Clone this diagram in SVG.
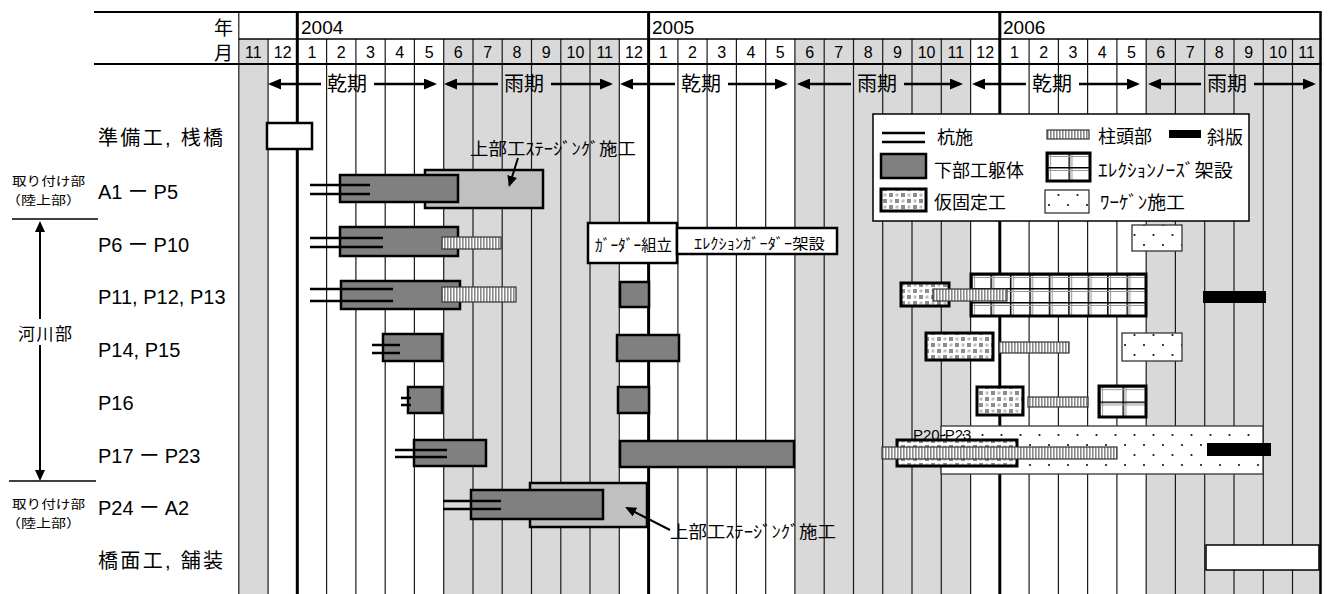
<svg xmlns="http://www.w3.org/2000/svg" width="1329" height="594" viewBox="0 0 1329 594">
<defs>
<style>
.jp{font-family:"Noto Sans CJK JP",sans-serif;fill:#000}
.lat{font-family:"Liberation Sans","Noto Sans CJK JP",sans-serif;fill:#000}
.mon{font-family:"Liberation Sans",sans-serif;font-size:16px;text-anchor:middle;fill:#000}
.sec{font-family:"Noto Sans CJK JP",sans-serif;font-size:12.4px;fill:#000}
.gcol{fill:#d9d9d9}
.vl{stroke:#1a1a1a;stroke-width:1.2}
.yl{stroke:#000;stroke-width:3}
.hl{stroke:#000;stroke-width:2}
.body{fill:#808080;stroke:#000;stroke-width:2.5}
.stage{fill:#c0c0c0;stroke:#000;stroke-width:2.5}
.pile{stroke:#000;stroke-width:2.5}
.stripe{fill:url(#pStripe);stroke:#333;stroke-width:1.2}
.kari{fill:url(#pKari);stroke:#000;stroke-width:3}
.wagen{fill:url(#pWagen);stroke:#333;stroke-width:1.3}
.slab{fill:#000}
.box{fill:#fff;stroke:#000;stroke-width:2.5}
.season{stroke:#000;stroke-width:2.5;fill:none;marker-end:url(#ah)}
.conn{stroke:#000;stroke-width:2;fill:none;marker-end:url(#ah2)}
</style>
<marker id="ah" markerUnits="userSpaceOnUse" markerWidth="13" markerHeight="11" viewBox="0 0 13 11" refX="10" refY="5.5" orient="auto"><path d="M0,0 L13,5.5 L0,11 z" fill="#000"/></marker>
<marker id="ah2" markerUnits="userSpaceOnUse" markerWidth="11" markerHeight="10" viewBox="0 0 11 10" refX="9" refY="5" orient="auto"><path d="M0,0 L11,5 L0,10 z" fill="#000"/></marker>
<pattern id="pStripe" patternUnits="userSpaceOnUse" width="3" height="10"><rect width="3" height="10" fill="#fff"/><rect width="1.6" height="10" fill="#8a8a8a"/></pattern>
<pattern id="pKari" patternUnits="userSpaceOnUse" width="12" height="12"><rect width="12" height="12" fill="#fff"/><rect x="1" y="1" width="4" height="4" fill="#8c8c8c"/><rect x="7" y="7" width="4" height="4" fill="#8c8c8c"/><rect x="7.5" y="1.5" width="3" height="3" fill="#bdbdbd"/><rect x="1.5" y="7.5" width="3" height="3" fill="#bdbdbd"/></pattern>
<pattern id="pWagen" patternUnits="userSpaceOnUse" width="19" height="20"><rect width="19" height="20" fill="#fff"/><circle cx="4" cy="5" r="1.1" fill="#111"/><circle cx="13.5" cy="15" r="1.1" fill="#111"/></pattern>
<pattern id="pNose" patternUnits="userSpaceOnUse" x="971" y="274" width="19.44" height="14"><rect width="19.44" height="14" fill="#fff"/><rect width="1.5" height="14" fill="#000"/><rect x="3" width="1" height="14" fill="#999"/><rect width="19.44" height="1.5" fill="#000"/><rect y="3" width="19.44" height="1" fill="#999"/></pattern>
<pattern id="pNose2" patternUnits="userSpaceOnUse" x="1099" y="386" width="23.5" height="15.5"><rect width="23.5" height="15.5" fill="#fff"/><rect width="1.5" height="15.5" fill="#000"/><rect x="3" width="1" height="15.5" fill="#999"/><rect width="23.5" height="1.5" fill="#000"/><rect y="3" width="23.5" height="1" fill="#999"/></pattern>
<pattern id="pNose3" patternUnits="userSpaceOnUse" x="1047" y="153" width="21.5" height="14"><rect width="21.5" height="14" fill="#fff"/><rect width="1.5" height="14" fill="#000"/><rect x="3" width="1" height="14" fill="#999"/><rect width="21.5" height="1.5" fill="#000"/><rect y="3" width="21.5" height="1" fill="#999"/></pattern>
</defs>
<rect width="1329" height="594" fill="#fff"/>

<g id="grid">
<rect class="gcol" x="238.8" y="39" width="29.3" height="555"/>
<rect class="gcol" x="443.7" y="39" width="175.6" height="555"/>
<rect class="gcol" x="794.9" y="39" width="175.7" height="555"/>
<rect class="gcol" x="1146.2" y="39" width="174.3" height="555"/>
<g class="vl">
<line x1="268.1" y1="39" x2="268.1" y2="594"/>
<line x1="326.6" y1="39" x2="326.6" y2="594"/>
<line x1="355.9" y1="39" x2="355.9" y2="594"/>
<line x1="385.2" y1="39" x2="385.2" y2="594"/>
<line x1="414.4" y1="39" x2="414.4" y2="594"/>
<line x1="443.7" y1="39" x2="443.7" y2="594"/>
<line x1="473" y1="39" x2="473" y2="594"/>
<line x1="502.2" y1="39" x2="502.2" y2="594"/>
<line x1="531.5" y1="39" x2="531.5" y2="594"/>
<line x1="560.8" y1="39" x2="560.8" y2="594"/>
<line x1="590" y1="39" x2="590" y2="594"/>
<line x1="619.3" y1="39" x2="619.3" y2="594"/>
<line x1="677.9" y1="39" x2="677.9" y2="594"/>
<line x1="707.1" y1="39" x2="707.1" y2="594"/>
<line x1="736.4" y1="39" x2="736.4" y2="594"/>
<line x1="765.7" y1="39" x2="765.7" y2="594"/>
<line x1="794.9" y1="39" x2="794.9" y2="594"/>
<line x1="824.2" y1="39" x2="824.2" y2="594"/>
<line x1="853.5" y1="39" x2="853.5" y2="594"/>
<line x1="882.7" y1="39" x2="882.7" y2="594"/>
<line x1="912" y1="39" x2="912" y2="594"/>
<line x1="941.3" y1="39" x2="941.3" y2="594"/>
<line x1="970.6" y1="39" x2="970.6" y2="594"/>
<line x1="1029.1" y1="39" x2="1029.1" y2="594"/>
<line x1="1058.4" y1="39" x2="1058.4" y2="594"/>
<line x1="1087.6" y1="39" x2="1087.6" y2="594"/>
<line x1="1116.9" y1="39" x2="1116.9" y2="594"/>
<line x1="1146.2" y1="39" x2="1146.2" y2="594"/>
<line x1="1175.4" y1="39" x2="1175.4" y2="594"/>
<line x1="1204.7" y1="39" x2="1204.7" y2="594"/>
<line x1="1234" y1="39" x2="1234" y2="594"/>
<line x1="1263.3" y1="39" x2="1263.3" y2="594"/>
<line x1="1292.5" y1="39" x2="1292.5" y2="594"/>
<line x1="238.8" y1="12" x2="238.8" y2="594"/>
</g>
<line x1="1320.5" y1="12" x2="1320.5" y2="594" stroke="#000" stroke-width="2.5"/>
<line class="yl" x1="297.3" y1="12" x2="297.3" y2="594"/>
<line class="yl" x1="648.6" y1="12" x2="648.6" y2="594"/>
<line class="yl" x1="999.8" y1="12" x2="999.8" y2="594"/>
<line class="hl" x1="94" y1="12" x2="1321.7" y2="12"/>
<line x1="238.8" y1="39" x2="1321.7" y2="39" stroke="#000" stroke-width="1.5"/>
<line class="hl" x1="94" y1="64" x2="1321.7" y2="64"/>
</g>

<g id="header">
<text class="jp" x="233" y="35" font-size="19" text-anchor="end">年</text>
<text class="jp" x="233" y="60" font-size="19" text-anchor="end">月</text>
<text class="lat" x="301" y="34" font-size="19">2004</text>
<text class="lat" x="652" y="34" font-size="19">2005</text>
<text class="lat" x="1003" y="34" font-size="19">2006</text>
<text class="mon" x="253.4" y="58">11</text>
<text class="mon" x="282.7" y="58">12</text>
<text class="mon" x="312" y="58">1</text>
<text class="mon" x="341.2" y="58">2</text>
<text class="mon" x="370.5" y="58">3</text>
<text class="mon" x="399.8" y="58">4</text>
<text class="mon" x="429.1" y="58">5</text>
<text class="mon" x="458.3" y="58">6</text>
<text class="mon" x="487.6" y="58">7</text>
<text class="mon" x="516.9" y="58">8</text>
<text class="mon" x="546.1" y="58">9</text>
<text class="mon" x="575.4" y="58">10</text>
<text class="mon" x="604.7" y="58">11</text>
<text class="mon" x="634" y="58">12</text>
<text class="mon" x="663.2" y="58">1</text>
<text class="mon" x="692.5" y="58">2</text>
<text class="mon" x="721.8" y="58">3</text>
<text class="mon" x="751" y="58">4</text>
<text class="mon" x="780.3" y="58">5</text>
<text class="mon" x="809.6" y="58">6</text>
<text class="mon" x="838.8" y="58">7</text>
<text class="mon" x="868.1" y="58">8</text>
<text class="mon" x="897.4" y="58">9</text>
<text class="mon" x="926.6" y="58">10</text>
<text class="mon" x="955.9" y="58">11</text>
<text class="mon" x="985.2" y="58">12</text>
<text class="mon" x="1014.5" y="58">1</text>
<text class="mon" x="1043.7" y="58">2</text>
<text class="mon" x="1073" y="58">3</text>
<text class="mon" x="1102.3" y="58">4</text>
<text class="mon" x="1131.5" y="58">5</text>
<text class="mon" x="1160.8" y="58">6</text>
<text class="mon" x="1190.1" y="58">7</text>
<text class="mon" x="1219.3" y="58">8</text>
<text class="mon" x="1248.6" y="58">9</text>
<text class="mon" x="1277.9" y="58">10</text>
<text class="mon" x="1306.5" y="58">11</text>
<g class="jp" font-size="20" text-anchor="middle">
<text x="347" y="91">乾期</text>
<text x="524" y="91">雨期</text>
<text x="701" y="91">乾期</text>
<text x="877" y="91">雨期</text>
<text x="1052" y="91">乾期</text>
<text x="1227" y="91">雨期</text>
</g>
</g>

<g id="row-labels">
<text class="lat" x="98" y="145" font-size="20" textLength="125">準備工, 桟橋</text>
<text class="lat" x="98" y="199" font-size="20">A1 ー P5</text>
<text class="lat" x="98" y="252" font-size="20">P6 ー P10</text>
<text class="lat" x="98" y="304" font-size="20">P11, P12, P13</text>
<text class="lat" x="98" y="357" font-size="20">P14, P15</text>
<text class="lat" x="98" y="410" font-size="20">P16</text>
<text class="lat" x="98" y="463" font-size="20">P17 ー P23</text>
<text class="lat" x="98" y="515" font-size="20">P24 ー A2</text>
<text class="lat" x="98" y="568" font-size="20" textLength="125">橋面工, 舗装</text>
</g>

<g id="section-labels">
<text class="sec" x="12" y="186" textLength="73" lengthAdjust="spacingAndGlyphs">取り付け部</text>
<text class="sec" x="6" y="205" textLength="75" lengthAdjust="spacingAndGlyphs">（陸上部）</text>
<line x1="12" y1="219" x2="98" y2="219" stroke="#000" stroke-width="1.5"/>
<text class="jp" x="18" y="340" font-size="17" letter-spacing="1.5">河川部</text>
<line x1="9" y1="481" x2="96" y2="481" stroke="#000" stroke-width="1.5"/>
<text class="sec" x="12" y="509" textLength="73" lengthAdjust="spacingAndGlyphs">取り付け部</text>
<text class="sec" x="6" y="528" textLength="75" lengthAdjust="spacingAndGlyphs">（陸上部）</text>
</g>

<g id="task-prep"><rect class="box" x="267" y="123" width="45" height="26"/></g>

<g id="task-A1-P5">
<rect class="stage" x="425" y="170" width="118" height="38"/>
<rect class="body" x="340" y="175" width="118" height="27"/>
<line class="pile" x1="310" y1="185" x2="370" y2="185"/>
<line class="pile" x1="310" y1="194" x2="370" y2="194"/>
<text class="jp" x="470" y="155" font-size="17" textLength="166" lengthAdjust="spacingAndGlyphs">上部工ｽﾃｰｼﾞﾝｸﾞ施工</text>
</g>

<g id="task-P6-P10">
<rect class="body" x="340" y="227" width="118" height="29"/>
<line class="pile" x1="310" y1="238" x2="383" y2="238"/>
<line class="pile" x1="310" y1="247" x2="383" y2="247"/>
<rect class="stripe" x="442" y="237" width="59" height="12"/>
<rect class="box" x="588" y="223" width="89" height="40"/>
<text class="jp" x="595" y="251" font-size="16" textLength="77" lengthAdjust="spacingAndGlyphs">ｶﾞｰﾀﾞｰ組立</text>
<rect class="box" x="677" y="228" width="160" height="26"/>
<text class="jp" x="694" y="249" font-size="15" textLength="131" lengthAdjust="spacingAndGlyphs">ｴﾚｸｼｮﾝｶﾞｰﾀﾞｰ架設</text>
<rect class="wagen" x="1132" y="225" width="50" height="26"/>
</g>

<g id="task-P11-P13">
<rect class="body" x="341" y="281" width="119" height="28"/>
<line class="pile" x1="310" y1="289" x2="393" y2="289"/>
<line class="pile" x1="310" y1="301" x2="393" y2="301"/>
<rect class="stripe" x="442" y="287" width="74" height="15"/>
<rect class="body" x="620" y="282" width="29" height="25"/>
<rect x="971" y="274" width="175" height="42" fill="url(#pNose)" stroke="#000" stroke-width="3"/>
<rect class="kari" x="901" y="283" width="48" height="23"/>
<rect class="stripe" x="933" y="289" width="74" height="12"/>
<rect class="slab" x="1203" y="291" width="63" height="12"/>
</g>

<g id="task-P14-P15">
<rect class="body" x="383" y="334" width="59" height="27"/>
<line class="pile" x1="372" y1="345" x2="400" y2="345"/>
<line class="pile" x1="372" y1="353" x2="400" y2="353"/>
<rect class="body" x="617" y="335" width="62" height="26"/>
<rect class="kari" x="926" y="333" width="67" height="27"/>
<rect class="stripe" x="999" y="342" width="70" height="11"/>
<rect class="wagen" x="1122" y="333" width="60" height="28"/>
</g>

<g id="task-P16">
<rect class="body" x="408" y="387" width="34" height="26"/>
<line class="pile" x1="401" y1="398" x2="411" y2="398"/>
<line class="pile" x1="401" y1="405" x2="411" y2="405"/>
<rect class="body" x="618" y="387" width="31" height="26"/>
<rect class="kari" x="977" y="387" width="46" height="28"/>
<rect class="stripe" x="1028" y="397" width="60" height="10"/>
<rect x="1099" y="386" width="47" height="31" fill="url(#pNose2)" stroke="#000" stroke-width="3"/>
</g>

<g id="task-P17-P23">
<rect class="body" x="414" y="440" width="72" height="26"/>
<line class="pile" x1="395" y1="450" x2="447" y2="450"/>
<line class="pile" x1="395" y1="457" x2="447" y2="457"/>
<rect class="body" x="620" y="441" width="174" height="26"/>
<rect class="wagen" x="941" y="426" width="322" height="48"/>
<rect class="kari" x="897" y="440" width="120" height="26"/>
<rect class="stripe" x="882" y="447" width="235" height="12"/>
<rect class="slab" x="1207" y="443" width="64" height="13"/>
<text class="lat" x="913" y="440" font-size="15">P20-P23</text>
</g>

<g id="task-P24-A2">
<rect class="stage" x="530" y="483" width="117" height="44"/>
<rect class="body" x="471" y="490" width="132" height="29"/>
<line class="pile" x1="443" y1="501" x2="501" y2="501"/>
<line class="pile" x1="443" y1="509" x2="501" y2="509"/>
<text class="jp" x="670" y="538" font-size="17" textLength="166" lengthAdjust="spacingAndGlyphs">上部工ｽﾃｰｼﾞﾝｸﾞ施工</text>
</g>

<g id="task-deck"><rect x="1206" y="545" width="113" height="25" fill="#fff" stroke="#000" stroke-width="1.5"/></g>

<g id="legend">
<rect x="873" y="114" width="376" height="107" fill="#fff" stroke="#000" stroke-width="1.5"/>
<line class="pile" x1="882" y1="133" x2="925" y2="133"/>
<line class="pile" x1="882" y1="142" x2="925" y2="142"/>
<text class="jp" x="937" y="144" font-size="18">杭施</text>
<rect class="stripe" x="1047" y="130" width="42" height="9"/>
<text class="jp" x="1098" y="143" font-size="18">柱頭部</text>
<rect class="slab" x="1169" y="130" width="32" height="8"/>
<text class="jp" x="1207" y="144" font-size="18">斜版</text>
<rect class="body" x="881" y="154" width="45" height="24"/>
<text class="jp" x="934" y="177" font-size="18">下部工躯体</text>
<rect x="1047" y="153" width="43" height="28" fill="url(#pNose3)" stroke="#000" stroke-width="3"/>
<text class="jp" x="1098" y="177" font-size="18" textLength="135" lengthAdjust="spacingAndGlyphs">ｴﾚｸｼｮﾝﾉｰｽﾞ架設</text>
<rect class="kari" x="881" y="189" width="45" height="22"/>
<text class="jp" x="934" y="209" font-size="18">仮固定工</text>
<rect class="wagen" x="1045" y="190" width="44" height="23"/>
<text class="jp" x="1100" y="209" font-size="18" textLength="85" lengthAdjust="spacingAndGlyphs">ﾜｰｹﾞﾝ施工</text>
</g>

<g id="connectors">
<line class="season" x1="321" y1="84" x2="271" y2="84"/>
<line class="season" x1="374" y1="84" x2="434" y2="84"/>
<line class="season" x1="498" y1="84" x2="447" y2="84"/>
<line class="season" x1="551" y1="84" x2="610" y2="84"/>
<line class="season" x1="675" y1="84" x2="623" y2="84"/>
<line class="season" x1="728" y1="84" x2="785" y2="84"/>
<line class="season" x1="851" y1="84" x2="800" y2="84"/>
<line class="season" x1="904" y1="84" x2="960" y2="84"/>
<line class="season" x1="1026" y1="84" x2="975" y2="84"/>
<line class="season" x1="1079" y1="84" x2="1137" y2="84"/>
<line class="season" x1="1201" y1="84" x2="1151" y2="84"/>
<line class="season" x1="1254" y1="84" x2="1313" y2="84"/>
<line class="conn" x1="40" y1="319" x2="40" y2="223"/>
<line class="conn" x1="40" y1="345" x2="40" y2="479"/>
<line class="conn" x1="518" y1="158" x2="509.5" y2="185"/>
<line class="conn" x1="670" y1="530" x2="627" y2="508"/>
</g>
</svg>
